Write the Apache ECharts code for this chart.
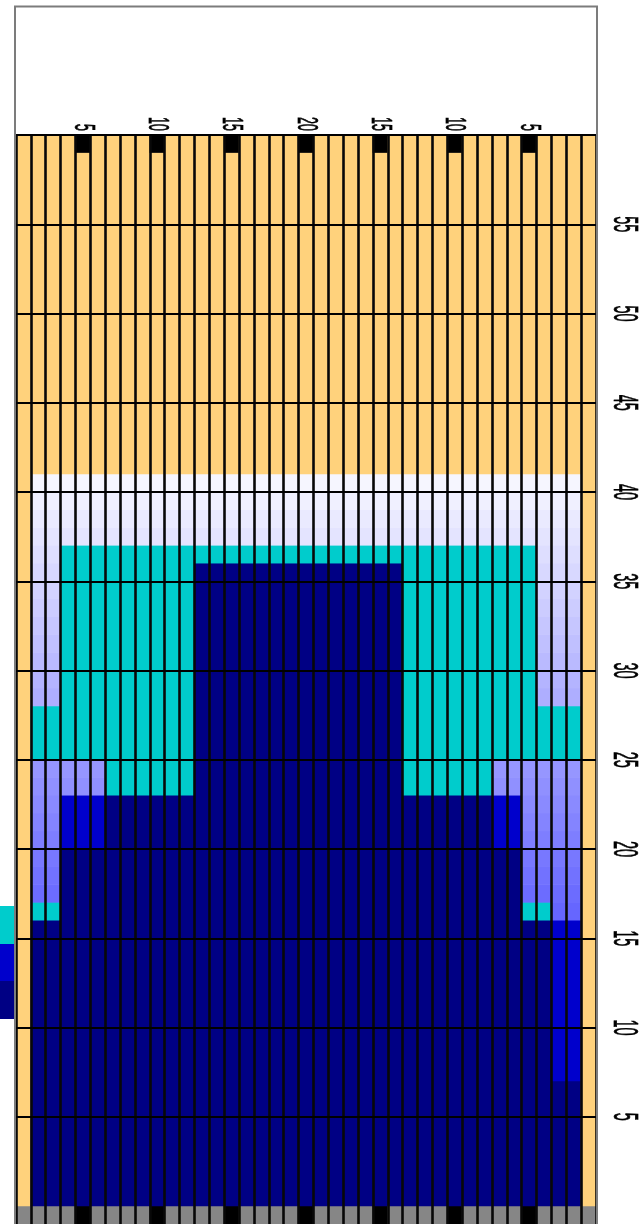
<!DOCTYPE html>
<html>
<head>
<meta charset="utf-8">
<title>Grid chart</title>
<script src="https://cdn.jsdelivr.net/npm/echarts@6.0.0/dist/echarts.min.js"></script>
<style>
  html, body { margin: 0; padding: 0; background: #fff; }
  #chart { width: 642px; height: 1224px; }
</style>
</head>
<body>
<div id="chart"></div>
<script>
// column labels along the top (symmetric 1..20..1)
const colLabels = [1, 2, 3, 4, 5, 6, 7, 8, 9, 10, 11, 12, 13, 14, 15, 16, 17, 18, 19, 20,
  19, 18, 17, 16, 15, 14, 13, 12, 11, 10, 9, 8, 7, 6, 5, 4, 3, 2, 1]
const tickCols = [5, 10, 15, 20, 25, 30, 35] // columns marked black in top / bottom rows
const rowLabels = [5, 10, 15, 20, 25, 30, 35, 40, 45, 50, 55]
const hLines = [5, 10, 15, 20, 25, 30, 35, 40, 45, 50, 55, 60]

// layer boundaries per column, in rows from the bottom
const navyTop  = [0, 16, 16, 20, 20, 20, 23, 23, 23, 23, 23, 23,
  36, 36, 36, 36, 36, 36, 36, 36, 36, 36, 36, 36, 36, 36,
  23, 23, 23, 23, 23, 23, 20, 20, 16, 16, 7, 7, 0]
const blueTop  = [0, 16, 16, 23, 23, 23, 23, 23, 23, 23, 23, 23,
  36, 36, 36, 36, 36, 36, 36, 36, 36, 36, 36, 36, 36, 36,
  23, 23, 23, 23, 23, 23, 23, 23, 16, 16, 16, 16, 0]
const cyanFrom = [0, 25, 25, 25, 25, 25, 23, 23, 23, 23, 23, 23,
  36, 36, 36, 36, 36, 36, 36, 36, 36, 36, 36, 36, 36, 36,
  23, 23, 23, 23, 23, 23, 25, 25, 25, 25, 25, 25, 0]
const cyanTo   = [0, 28, 28, 37, 37, 37, 37, 37, 37, 37, 37, 37,
  37, 37, 37, 37, 37, 37, 37, 37, 37, 37, 37, 37, 37, 37,
  37, 37, 37, 37, 37, 37, 37, 37, 37, 28, 28, 28, 0]
const seamCyan = [-1, 16, 16, -1, -1, -1, -1, -1, -1, -1, -1, -1,
  -1, -1, -1, -1, -1, -1, -1, -1, -1, -1, -1, -1, -1, -1,
  -1, -1, -1, -1, -1, -1, -1, -1, 16, 16, -1, -1, -1]
const lightTop = [0, 41, 41, 41, 41, 41, 41, 41, 41, 41, 41, 41,
  41, 41, 41, 41, 41, 41, 41, 41, 41, 41, 41, 41, 41, 41,
  41, 41, 41, 41, 41, 41, 41, 41, 41, 41, 41, 41, 0]

const TOP_ROW = 59
const BOTTOM_ROW = -1

const palette = {
  yellow: '#FFD27C',
  navy: '#000084',
  blue: '#0000CC',
  cyan: '#00CCCC',
  gray: '#868686',
  black: '#000000',
}

// lavender band gets lighter with height
function lightShade(r) {
  let t = (r - 16) / (40 - 16)
  t = Math.max(0, Math.min(1, t))
  const v = Math.round(102 + t * (246 - 102))
  return 'rgb(' + v + ',' + v + ',255)'
}

function cellColor(c, r) {
  const isTick = tickCols.indexOf(c + 1) >= 0
  if (r === BOTTOM_ROW) return isTick ? palette.black : palette.gray
  if (r === TOP_ROW) return isTick ? palette.black : palette.yellow
  if (r < navyTop[c]) return palette.navy
  if (r < blueTop[c]) return palette.blue
  if ((r >= cyanFrom[c] && r < cyanTo[c]) || r === seamCyan[c]) return palette.cyan
  if (r < lightTop[c]) return lightShade(r)
  return palette.yellow
}

// merge runs of equal colour into one rect per run
const segs = []
const segColors = []
for (let c = 0; c < colLabels.length; c++) {
  let start = BOTTOM_ROW
  let cur = cellColor(c, BOTTOM_ROW)
  for (let r = BOTTOM_ROW + 1; r <= TOP_ROW + 1; r++) {
    const col = r <= TOP_ROW ? cellColor(c, r) : null
    if (col !== cur) {
      segs.push([c, start, r])
      segColors.push(cur)
      start = r
      cur = col
    }
  }
}

const chart = echarts.init(document.getElementById('chart'), null, { renderer: 'canvas' })

const option = {
  backgroundColor: '#fff',
  animation: false,
  grid: { left: 16, top: 135, width: 580, bottom: 0 },
  xAxis: {
    type: 'category',
    position: 'top',
    data: colLabels.map((v, i) => 'c' + i),
    z: 3,
    axisLine: { show: false },
    axisTick: { show: false },
    axisLabel: { show: false },
    splitLine: { show: true, interval: 0, lineStyle: { color: '#080808', width: 2.6 } },
  },
  yAxis: {
    type: 'value',
    min: BOTTOM_ROW,
    max: TOP_ROW + 1,
    axisLine: { show: false },
    axisTick: { show: false },
    axisLabel: { show: false },
    splitLine: { show: false },
  },
  series: [
    {
      type: 'custom',
      z: 1,
      silent: true,
      encode: { x: 0, y: [1, 2] },
      data: segs,
      renderItem: function (params, api) {
        const c = api.value(0)
        const lo = api.coord([c, api.value(1)])
        const hi = api.coord([c, api.value(2)])
        const w = api.size([1, 0])[0]
        return {
          type: 'rect',
          shape: { x: lo[0] - w / 2 - 0.3, y: hi[1] - 0.6, width: w + 0.6, height: lo[1] - hi[1] + 0.6 },
          style: { fill: segColors[params.dataIndex] },
        }
      },
      markLine: {
        silent: true,
        symbol: ['none', 'none'],
        label: { show: false },
        lineStyle: { color: '#000', width: 2, type: 'solid' },
        data: hLines.map(v => ({ yAxis: v })),
      },
    },
    {
      // column labels above the grid
      type: 'custom',
      z: 4,
      silent: true,
      data: tickCols.map(c => [c - 1, TOP_ROW + 1]),
      renderItem: function (params, api) {
        const p = api.coord([api.value(0), api.value(1)])
        return {
          type: 'text',
          x: p[0],
          y: p[1] - 4,
          rotation: -Math.PI / 2,
          scaleY: 2.4,
          style: {
            text: String(colLabels[tickCols[params.dataIndex] - 1]),
            fill: '#000',
            stroke: '#000',
            lineWidth: 0.3,
            fontSize: 12.5,
            fontFamily: 'Liberation Sans',
            align: 'right',
            verticalAlign: 'middle',
          },
        }
      },
    },
    {
      // row labels on the right
      type: 'custom',
      z: 4,
      silent: true,
      data: rowLabels.map(v => [38, v]),
      renderItem: function (params, api) {
        const p = api.coord([api.value(0), api.value(1)])
        return {
          type: 'text',
          x: p[0] + 35,
          y: p[1],
          rotation: -Math.PI / 2,
          scaleY: 2.4,
          style: {
            text: String(rowLabels[params.dataIndex]),
            fill: '#000',
            stroke: '#000',
            lineWidth: 0.3,
            fontSize: 14.5,
            fontFamily: 'Liberation Sans',
            align: 'center',
            verticalAlign: 'middle',
          },
        }
      },
    },
  ],
  graphic: [
    // outer frame
    {
      type: 'rect', z: 100, silent: true,
      shape: { x: 15, y: 6.5, width: 582, height: 1240 },
      style: { fill: 'none', stroke: '#7c7c7c', lineWidth: 2 },
    },
    // clipped legend swatches at the left edge
    { type: 'rect', z: 100, silent: true, shape: { x: 0, y: 906, width: 14, height: 38 }, style: { fill: palette.cyan } },
    { type: 'rect', z: 100, silent: true, shape: { x: 0, y: 944, width: 14, height: 37 }, style: { fill: palette.blue } },
    { type: 'rect', z: 100, silent: true, shape: { x: 0, y: 981, width: 14, height: 38 }, style: { fill: palette.navy } },
  ],
}

chart.setOption(option)
</script>
</body>
</html>
